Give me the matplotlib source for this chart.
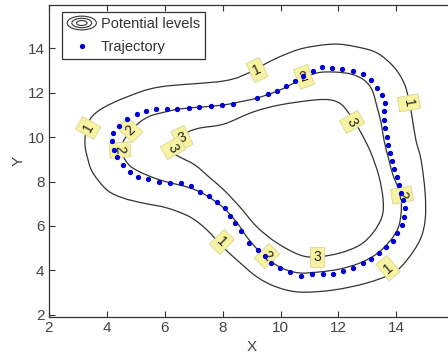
import matplotlib
matplotlib.use("Agg")
import matplotlib.pyplot as plt
from matplotlib.patches import Ellipse, PathPatch
from matplotlib.path import Path
from matplotlib.legend_handler import HandlerBase
from matplotlib.lines import Line2D

plt.rcParams['font.family'] = ['Liberation Sans', 'DejaVu Sans']

# ---- data ----
level1_x = [3.25, 3.36, 3.77, 4.70, 5.84, 8.05, 8.98, 9.53, 10.12, 10.81, 11.84, 12.64, 13.33, 13.91,
            14.26, 14.43, 14.54, 14.67, 14.85, 14.99, 14.99, 14.81, 14.36, 13.88, 12.98, 11.81, 10.67,
            9.88, 9.19, 8.50, 8.01, 7.46, 6.88, 6.08, 5.25, 4.56, 4.01, 3.53, 3.36]
level1_y = [9.73, 10.64, 11.23, 11.81, 12.26, 12.53, 12.94, 13.34, 13.70, 14.01, 14.19, 14.06, 13.79, 13.16,
            12.44, 11.67, 10.90, 9.87, 8.97, 7.48, 6.27, 5.36, 4.46, 3.88, 3.43, 3.11, 3.02,
            3.24, 3.70, 4.46, 5.05, 5.82, 6.40, 6.81, 7.03, 7.26, 7.62, 8.38, 8.97]

level2_x = [4.50, 4.60, 4.84, 5.15, 5.50, 6.01, 6.53, 7.33, 8.05, 8.60, 9.19, 9.98, 10.67, 11.26, 11.85,
            12.43, 12.88, 13.16, 13.33, 13.47, 13.57, 13.74, 13.88, 14.06, 14.16, 14.16, 14.06, 13.78,
            13.33, 12.74, 12.05, 11.36, 10.67, 10.12, 9.64, 9.19, 8.81, 8.53, 8.08, 7.63, 7.22, 6.78,
            5.84, 5.15, 4.74]
level2_y = [9.42, 9.87, 10.28, 10.68, 10.95, 11.13, 11.27, 11.36, 11.45, 11.59, 11.76, 12.12, 12.57, 12.89,
            12.93, 12.84, 12.57, 12.12, 11.36, 10.64, 9.87, 8.97, 8.29, 7.71, 7.17, 6.58, 5.91, 5.33,
            4.75, 4.33, 4.06, 3.93, 3.88, 4.06, 4.42, 4.96, 5.55, 6.09, 6.76, 7.21, 7.53, 7.75,
            8.07, 8.43, 8.79]

level3_x = [6.12, 6.39, 6.81, 7.22, 8.05, 9.05, 9.98, 11.16, 11.74, 12.12, 12.47, 12.78, 13.12, 13.40,
            13.54, 13.50, 13.19, 12.74, 12.05, 11.26, 10.67, 9.88, 9.19, 8.60, 8.05, 7.57, 7.05, 6.53]
level3_y = [9.42, 9.87, 10.23, 10.41, 10.59, 11.13, 11.45, 11.67, 11.67, 11.45, 10.86, 10.19, 9.29, 8.21,
            7.17, 6.41, 5.69, 5.14, 4.78, 4.60, 4.69, 5.23, 5.95, 6.85, 7.61, 8.16, 8.74, 9.10]

traj_x = [4.18, 4.22, 4.43, 4.70, 5.05, 5.36, 5.70, 6.08, 6.43, 6.84, 7.19, 7.60, 7.98, 8.36, 9.19, 9.57,
          9.88, 10.19, 10.50, 10.78, 11.12, 11.43, 11.78, 12.12, 12.50, 12.85, 13.12, 13.33, 13.50, 13.61,
          13.57, 13.57, 13.61, 13.67, 13.71, 13.78, 13.85, 13.92, 14.02, 14.09, 14.16, 14.23, 14.30, 14.26,
          14.19, 14.02, 13.88, 13.64, 13.40, 13.12, 12.85, 12.50, 12.16, 11.81, 11.47, 11.09, 10.71, 10.33,
          9.98, 9.67, 9.46, 9.22, 8.91, 8.64, 8.43, 8.26, 8.08, 7.81, 7.53, 7.22, 6.91, 6.57, 6.19, 5.81,
          5.43, 5.08, 4.81, 4.56, 4.36, 4.25]
traj_y = [9.83, 10.19, 10.50, 10.82, 11.04, 11.18, 11.27, 11.27, 11.27, 11.31, 11.36, 11.40, 11.45, 11.49,
          11.76, 11.94, 12.08, 12.30, 12.53, 12.75, 12.98, 13.16, 13.11, 13.07, 12.98, 12.84, 12.57, 12.21,
          11.90, 11.54, 11.18, 10.77, 10.41, 10.01, 9.65, 9.29, 8.93, 8.57, 8.21, 7.85, 7.49, 7.18, 6.82,
          6.41, 6.05, 5.69, 5.33, 5.06, 4.78, 4.51, 4.33, 4.10, 3.97, 3.83, 3.83, 3.83, 3.74, 3.92, 4.10,
          4.33, 4.64, 4.91, 5.23, 5.77, 6.13, 6.45, 6.81, 7.08, 7.35, 7.53, 7.80, 7.93, 7.93, 7.98, 8.11,
          8.20, 8.43, 8.74, 9.10, 9.42]

label_text = ['1', '1', '1', '1', '1', '2', '2', '2', '2', '2', '3', '3', '3', '3']
label_x = [3.36, 9.19, 14.43, 13.71, 7.98, 4.81, 4.46, 10.81, 14.19, 9.53, 6.60, 6.29, 12.47, 11.26]
label_y = [10.41, 13.02, 11.54, 4.10, 5.28, 10.32, 9.42, 12.71, 7.39, 4.64, 9.96, 9.51, 10.68, 4.60]
label_rot = [60, 25, -80, 40, -45, 45, -85, 20, -80, -45, 25, -60, -60, 0]

xticks = [2, 4, 6, 8, 10, 12, 14]
yticks = [2, 4, 6, 8, 10, 12, 14]


def smooth_closed_path(xs, ys):
    """Closed Catmull-Rom style drawing path through the given points."""
    n = len(xs)
    pts = list(zip(xs, ys))
    verts = [pts[0]]
    codes = [Path.MOVETO]
    for i in range(n):
        p0 = pts[(i - 1) % n]
        p1 = pts[i]
        p2 = pts[(i + 1) % n]
        p3 = pts[(i + 2) % n]
        c1 = (p1[0] + (p2[0] - p0[0]) / 6.0, p1[1] + (p2[1] - p0[1]) / 6.0)
        c2 = (p2[0] - (p3[0] - p1[0]) / 6.0, p2[1] - (p3[1] - p1[1]) / 6.0)
        verts += [c1, c2, p2]
        codes += [Path.CURVE4] * 3
    return Path(verts, codes)


# ---- figure ----
fig = plt.figure(figsize=(4.48, 3.57), dpi=100)
ax = fig.add_axes([48.7 / 448, (357 - 316.5) / 357, (454.4 - 48.7) / 448, (316.5 - 5) / 357])
ax.set_xlim(2, 16)
ax.set_ylim(1.92, 15.95)

line_col = '#333333'
for xs, ys in [(level1_x, level1_y), (level2_x, level2_y), (level3_x, level3_y)]:
    ax.add_patch(PathPatch(smooth_closed_path(xs, ys), fill=False, ec=line_col, lw=0.9, zorder=2))

for t, x, y, r in zip(label_text, label_x, label_y, label_rot):
    ax.text(x, y, t, rotation=r, rotation_mode='anchor', ha='center', va='center',
            fontsize=10, color='#222222', zorder=3,
            bbox=dict(boxstyle='square,pad=0.25', fc='#f7f3a0', ec='#d8d49a', lw=0.6))

ax.plot(traj_x, traj_y, linestyle='none', marker='o', ms=2.8, mfc='#0000d8', mec='#0000d8', zorder=4)

ax.set_xticks(xticks)
ax.set_yticks(yticks)
ax.tick_params(direction='in', length=4, width=0.8, top=True, right=True,
               labelsize=11, colors='#333333', labelcolor='#444444', pad=3)
for s in ax.spines.values():
    s.set_color('#333333')
    s.set_linewidth(0.9)
ax.set_xlabel('X', fontsize=11, color='#444444', labelpad=4)
ax.set_ylabel('Y', fontsize=11, color='#444444', labelpad=1)


class ContourIcon:
    pass


class HandlerContour(HandlerBase):
    def create_artists(self, legend, orig_handle, xdescent, ydescent, width, height, fontsize, trans):
        cx = width / 2 - xdescent
        cy = height / 2 - ydescent
        arts = []
        for f in (1.0, 0.68, 0.36):
            e = Ellipse((cx, cy), width * f, height * 1.35 * f, fill=False,
                        ec='#333333', lw=0.8, transform=trans)
            arts.append(e)
        return arts


traj_handle = Line2D([], [], linestyle='none', marker='o', ms=2.8, mfc='#0000d8', mec='#0000d8')
leg = ax.legend([ContourIcon(), traj_handle], ['Potential levels', 'Trajectory'],
                handler_map={ContourIcon: HandlerContour()},
                loc='upper left', bbox_to_anchor=(0.033, 0.9775), borderaxespad=0, fontsize=10.5,
                frameon=True, fancybox=False, edgecolor='#333333', framealpha=1,
                handlelength=2.0, handletextpad=0.3, borderpad=0.35, labelspacing=0.6)
leg.get_frame().set_linewidth(0.9)
for t in leg.get_texts():
    t.set_color('#333333')

fig.savefig('out.png', dpi=100)
